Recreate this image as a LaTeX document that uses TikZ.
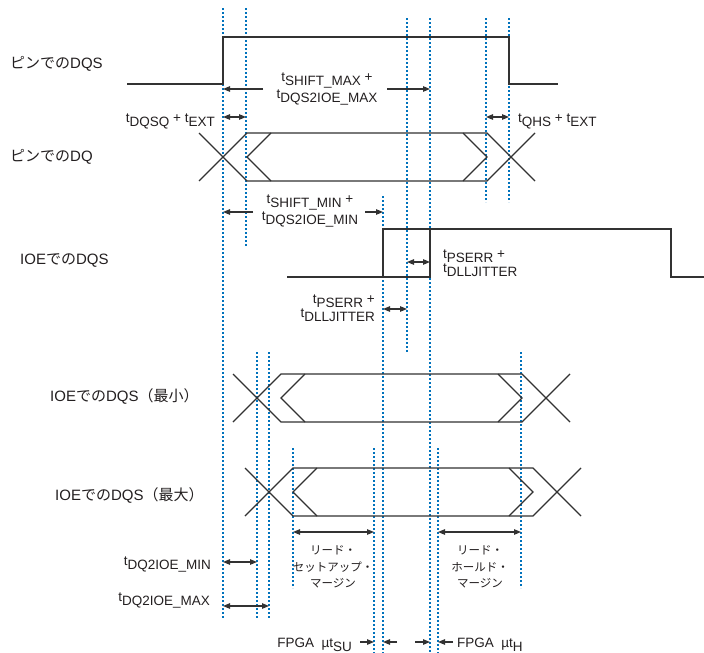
\documentclass[tikz,border=0pt]{standalone}
\usepackage{fontspec}
\setmainfont{Liberation Sans}
\newfontfamily\jpfont{Noto Sans CJK JP}
\usetikzlibrary{arrows.meta}
\definecolor{guideblue}{RGB}{0,114,188}
\definecolor{wavegray}{RGB}{50,50,50}
\definecolor{txt}{RGB}{35,31,32}
\newcommand\tsb[1]{t\raisebox{-0.3em}{#1}}
\newcommand\DQeye[4]{% L1, R2, top, bottom
  \pgfmathsetmacro\eyemid{(#3+#4)/2}
  \draw[wave] (#1-24,#3) -- (#1+24,#4) -- (#2-24,#4) -- (#2+24,#3);
  \draw[wave] (#1-24,#4) -- (#1+24,#3) -- (#2-24,#3) -- (#2+24,#4);
  \draw[wave] (#1+48,#3) -- (#1+24,\eyemid) -- (#1+48,#4);
  \draw[wave] (#2-48,#3) -- (#2-24,\eyemid) -- (#2-48,#4);
}
\begin{document}
\begin{tikzpicture}[x=1pt,y=-1pt,
  wave/.style={draw=wavegray,line width=1.3pt,line join=miter},
  guide/.style={draw=guideblue,line width=1.2pt,dash pattern=on 2pt off 2pt},
  dim/.style={draw=wavegray,line width=1.1pt,{Triangle[length=7pt,width=5.5pt]}-{Triangle[length=7pt,width=5.5pt]}},
  tip/.style={draw=wavegray,line width=1.1pt,-{Triangle[length=7pt,width=5.5pt]}},
  lab/.style={text=txt,inner sep=0pt,font=\fontsize{15}{18}\selectfont},
  tl/.style={text=txt,inner sep=0pt,font=\fontsize{13.5}{14}\selectfont},
  ml/.style={text=txt,inner sep=0pt,align=center,font=\fontsize{11.5}{16.5}\selectfont\jpfont}]
\useasboundingbox[fill=white] (0,0) rectangle (704,653);

% guide lines
\foreach \gx/\gt/\gb in {223/8/619, 246/8/247, 383/196/653, 407/18/353, 430/18/653,
  486/18/202, 509/18/202, 257/352/619, 269/352/619, 521/352/588, 293/448/588,
  374/448/653, 438/448/653}
  {\coordinate (g\gx-t) at (\gx,\gt); \coordinate (g\gx-b) at (\gx,\gb);
   \draw[guide] (g\gx-t) -- (g\gx-b);}

% waveforms
\draw[wave] (127,84) -- (223,84) -- (223,37) -- (509,37) -- (509,84) -- (558,84);
\DQeye{223}{511}{133}{181}
\draw[wave] (287,277) -- (430,277) -- (430,229);
\draw[wave] (383,277) -- (383,229) -- (671,229) -- (671,277) -- (704,277);
\DQeye{257}{546}{374}{422}
\DQeye{269}{557}{468}{516}

% signal labels
\node[lab,anchor=base west] (lpdqs) at (10,68) {{\jpfont ピンでの}DQS};
\node[lab,anchor=base west] (lpdq) at (10,161) {{\jpfont ピンでの}DQ};
\node[lab,anchor=base west] (lidqs) at (20,264) {IOE{\jpfont での}DQS};
\node[lab,anchor=base west] (limin) at (50,401) {IOE{\jpfont での}DQS{\jpfont （最小）}};
\node[lab,anchor=base west] (limax) at (55,500) {IOE{\jpfont での}DQS{\jpfont （最大）}};

% timing labels
\node[tl,anchor=base east] (ldqsq) at (215,122) {\tsb{DQSQ} + \tsb{EXT}};
\node[tl,anchor=base west] (lqhs) at (518,122) {\tsb{QHS} + \tsb{EXT}};
\node[tl,align=center] (lshmax) at (327,89) {\tsb{SHIFT\_MAX} +\\\tsb{DQS2IOE\_MAX}};
\node[tl,align=center] (lshmin) at (310,211) {\tsb{SHIFT\_MIN} +\\\tsb{DQS2IOE\_MIN}};
\node[tl,align=left,anchor=west] (lpsr) at (443,263) {\tsb{PSERR} +\\\tsb{DLLJITTER}};
\node[tl,align=right,anchor=east] (lpsl) at (375,308) {\tsb{PSERR} +\\\tsb{DLLJITTER}};
\node[tl,anchor=base east] (ldqmin) at (211,565) {\tsb{DQ2IOE\_MIN}};
\node[tl,anchor=base east] (ldqmax) at (210,601.5) {\tsb{DQ2IOE\_MAX}};
\node[tl,anchor=base east] (lsu) at (352,647) {FPGA\ \ µ\tsb{SU}};
\node[tl,anchor=base west] (lh) at (457,647) {FPGA\ \ µ\tsb{H}};
\node[ml] (lsetup) at (333,567) {リード・\\セットアップ・\\マージン};
\node[ml] (lhold) at (480,567) {リード・\\ホールド・\\マージン};

% arrow end points
\coordinate (dqsqA) at (223,117); \coordinate (dqsqB) at (246,117);
\coordinate (qhsA) at (486,117); \coordinate (qhsB) at (509,117);
\coordinate (shmaxL) at (223,89); \coordinate (shmaxLt) at (263,89);
\coordinate (shmaxR) at (430,89); \coordinate (shmaxRt) at (387,89);
\coordinate (shminL) at (223,212); \coordinate (shminLt) at (253,212);
\coordinate (shminR) at (383,212); \coordinate (shminRt) at (365,212);
\coordinate (psrA) at (407,262); \coordinate (psrB) at (430,262);
\coordinate (pslA) at (383,309); \coordinate (pslB) at (407,309);
\coordinate (suA) at (293,532); \coordinate (suB) at (374,532);
\coordinate (hdA) at (438,532); \coordinate (hdB) at (521,532);
\coordinate (dqminA) at (223,562); \coordinate (dqminB) at (257,562);
\coordinate (dqmaxA) at (223,606); \coordinate (dqmaxB) at (269,606);
\coordinate (b1t) at (360,642); \coordinate (b1) at (374,642);
\coordinate (b2t) at (397,642); \coordinate (b2) at (383,642);
\coordinate (b3t) at (415,642); \coordinate (b3) at (430,642);
\coordinate (b4t) at (453,642); \coordinate (b4) at (438,642);

% arrows
\draw[dim] (dqsqA) -- (dqsqB);
\draw[dim] (qhsA) -- (qhsB);
\draw[tip] (shmaxLt) -- (shmaxL);
\draw[tip] (shmaxRt) -- (shmaxR);
\draw[tip] (shminLt) -- (shminL);
\draw[tip] (shminRt) -- (shminR);
\draw[dim] (psrA) -- (psrB);
\draw[dim] (pslA) -- (pslB);
\draw[dim] (suA) -- (suB);
\draw[dim] (hdA) -- (hdB);
\draw[dim] (dqminA) -- (dqminB);
\draw[dim] (dqmaxA) -- (dqmaxB);
\draw[tip] (b1t) -- (b1);
\draw[tip] (b2t) -- (b2);
\draw[tip] (b3t) -- (b3);
\draw[tip] (b4t) -- (b4);
\end{tikzpicture}
\end{document}
